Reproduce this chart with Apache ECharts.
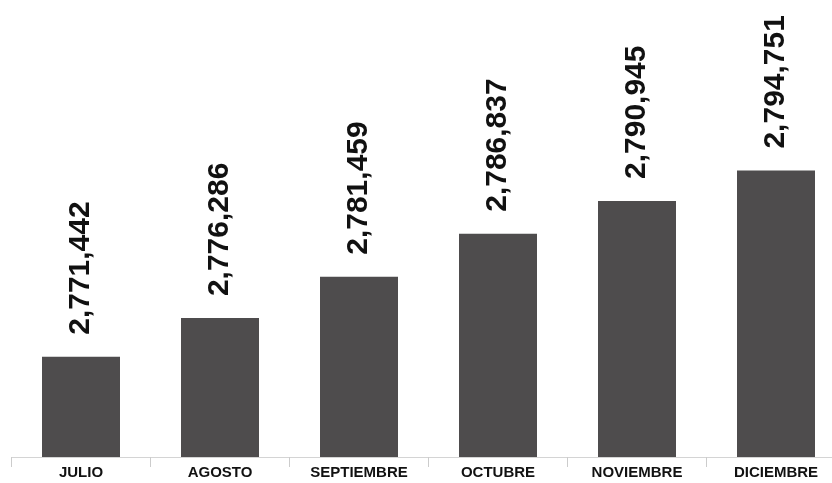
<!DOCTYPE html>
<html>
<head>
<meta charset="utf-8">
<title>Chart</title>
<script src="https://cdn.jsdelivr.net/npm/echarts@6/dist/echarts.min.js"></script>
<style>
  html, body { margin: 0; padding: 0; background: #fff; overflow: hidden; }
  /* the last category runs past the right edge in the original, so the canvas is a bit wider than the window */
  #main { width: 846px; height: 483px; }
</style>
</head>
<body>
<div id="main"></div>
<script>
// months and values
var months = ['JULIO', 'AGOSTO', 'SEPTIEMBRE', 'OCTUBRE', 'NOVIEMBRE', 'DICIEMBRE'];
var totals = [2771442, 2776286, 2781459, 2786837, 2790945, 2794751];

var chart = echarts.init(document.getElementById('main'));
chart.setOption({
  animation: false,
  grid: { left: 11.5, top: 0, right: 0.5, bottom: 26 },
  xAxis: {
    type: 'category',
    data: months,
    axisLine: { lineStyle: { color: '#d4d4d4', width: 1 } },
    axisTick: { show: true, length: 10, lineStyle: { color: '#cccccc', width: 1 } },
    axisLabel: {
      color: '#111',
      fontFamily: 'Liberation Sans',
      fontWeight: 'bold',
      fontSize: 15,
      margin: 8
    }
  },
  yAxis: {
    type: 'value',
    min: 2758900,
    max: 2816100,
    show: false,
    splitLine: { show: false }
  },
  series: [{
    type: 'bar',
    data: totals,
    barWidth: 78,
    itemStyle: { color: '#4e4c4d' },
    label: {
      show: true,
      position: 'top',
      rotate: 90,
      align: 'left',
      verticalAlign: 'middle',
      distance: 22,
      color: '#111',
      fontFamily: 'Liberation Sans',
      fontWeight: 'bold',
      fontSize: 30,
      formatter: function (p) { return p.value.toLocaleString('en-US'); }
    }
  }]
});
</script>
</body>
</html>
